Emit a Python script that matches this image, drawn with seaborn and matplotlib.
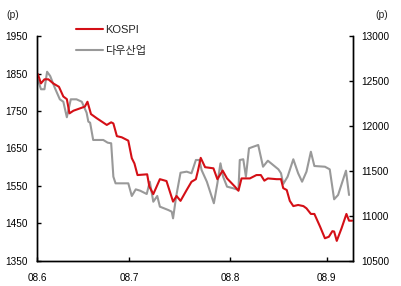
import matplotlib
matplotlib.use("Agg")
import matplotlib.pyplot as plt
import seaborn as sns
import pandas as pd

# trading-day index (0 = start of June 2008) and values
kospi_day = [0.2, 0.9, 1.7, 2.6, 3.7, 5.0, 6.0, 6.8, 7.4, 8.3, 10.2, 10.9, 11.5, 12.3,
             13.6, 15.9, 16.9, 17.4, 18.2, 19.3, 20.8, 21.6, 22.2, 22.9, 25.1, 25.6,
             26.5, 27.1, 28.0, 29.5, 31.0, 31.8, 32.7, 34.1, 35.2, 36.2, 36.7, 37.3,
             38.3, 40.2, 41.1, 42.3, 43.3, 45.1, 45.9, 46.6, 48.5, 50.0, 51.0, 51.8,
             52.6, 54.6, 55.6, 56.1, 56.9, 57.6, 58.4, 59.5, 60.7, 61.4, 62.4, 63.2,
             64.5, 65.6, 66.5, 67.3, 67.7, 68.3, 69.4, 70.5, 71.1, 71.8]
kospi_val = [1849, 1824, 1835, 1835, 1824, 1815, 1789, 1782, 1744, 1751, 1759, 1762,
             1775, 1742, 1731, 1713, 1720, 1717, 1683, 1680, 1671, 1624, 1610, 1579,
             1581, 1548, 1528, 1544, 1568, 1563, 1508, 1523, 1510, 1539, 1561, 1568,
             1592, 1625, 1600, 1597, 1568, 1591, 1570, 1548, 1537, 1570, 1570, 1579,
             1579, 1564, 1570, 1568, 1568, 1544, 1539, 1510, 1496, 1499, 1496, 1490,
             1475, 1475, 1441, 1410, 1414, 1429, 1428, 1403, 1437, 1475, 1457, 1457]

dow_day = [0.2, 0.9, 1.7, 2.3, 3.0, 4.1, 5.2, 6.0, 6.8, 7.7, 9.0, 10.2, 11.3, 11.7,
           12.1, 12.8, 15.1, 16.1, 16.9, 17.4, 17.9, 20.8, 21.6, 22.5, 23.5, 25.0,
           25.7, 26.5, 27.4, 28.0, 29.9, 30.7, 31.0, 31.7, 32.7, 34.1, 35.2, 36.2,
           37.0, 37.5, 38.7, 40.3, 41.1, 41.8, 42.4, 43.3, 44.7, 45.9, 46.2, 47.0,
           47.6, 48.3, 49.3, 50.4, 51.5, 52.6, 53.8, 55.0, 55.6, 56.1, 57.1, 58.4,
           59.5, 60.4, 61.4, 62.4, 63.2, 65.6, 66.7, 67.7, 68.6, 70.4, 71.1]
dow_val = [12521, 12410, 12410, 12605, 12558, 12421, 12298, 12271, 12098, 12298, 12298,
           12271, 12149, 12049, 12038, 11845, 11845, 11815, 11808, 11436, 11362, 11362,
           11221, 11295, 11280, 11243, 11380, 11157, 11221, 11102, 11065, 11046, 10972,
           11213, 11480, 11492, 11474, 11622, 11622, 11510, 11380, 11140, 11362, 11585,
           11436, 11325, 11307, 11288, 11622, 11630, 11436, 11752, 11770, 11789, 11547,
           11614, 11566, 11518, 11474, 11355, 11436, 11630, 11474, 11380, 11492, 11714,
           11555, 11547, 11518, 11184, 11232, 11503, 11232]

month_ticks = [0, 21, 44, 66]
month_labels = ["08.6", "08.7", "08.8", "08.9"]
left_ticks = [1350, 1450, 1550, 1650, 1750, 1850, 1950]
right_ticks = [10500, 11000, 11500, 12000, 12500, 13000]

sns.set_style("white")
plt.rcParams["font.family"] = ["Liberation Sans", "Noto Sans CJK KR", "DejaVu Sans"]

fig = plt.figure(figsize=(4.02, 2.86), dpi=100)
ax = fig.add_axes([37 / 402, 1 - 260.7 / 286, (353 - 37) / 402, (260.7 - 36.3) / 286])
ax2 = ax.twinx()

kdf = pd.DataFrame({"day": kospi_day, "v": kospi_val})
ddf = pd.DataFrame({"day": dow_day, "v": dow_val})

sns.lineplot(data=ddf, x="day", y="v", ax=ax2, color="#999999", lw=1.5, label="다우산업", legend=False)
sns.lineplot(data=kdf, x="day", y="v", ax=ax, color="#d40f16", lw=1.5, label="KOSPI", legend=False)

ax.set_zorder(ax2.get_zorder() + 1)
ax.patch.set_visible(False)

ax.set_xlim(0, 72)
ax.set_ylim(1350, 1950)
ax2.set_ylim(10500, 13000)
ax.set_xticks(month_ticks)
ax.set_xticklabels(month_labels)
ax.set_yticks(left_ticks)
ax.set_yticklabels([str(t) for t in left_ticks])
ax2.set_yticks(right_ticks)
ax2.set_yticklabels([str(t) for t in right_ticks])
for a in (ax, ax2):
    a.set_xlabel("")
    a.set_ylabel("")
    a.grid(False)
    for s in a.spines.values():
        s.set_color("black")
        s.set_linewidth(1.0)
    a.spines["top"].set_visible(False)

ax.tick_params(axis="y", direction="in", length=3, width=1, pad=6.5, labelsize=7.2, colors="black", left=True)
ax.tick_params(axis="x", direction="in", length=3, width=1, pad=9, labelsize=7.2, colors="black", bottom=True)
ax2.tick_params(axis="y", direction="in", length=3, width=1, pad=6, labelsize=7.2, colors="black", right=True)

fig.text(12.5 / 402, 1 - 15.5 / 286, "(p)", fontsize=7.5, ha="center", va="center")
fig.text(382 / 402, 1 - 15.5 / 286, "(p)", fontsize=7.5, ha="center", va="center")

h1, l1 = ax.get_legend_handles_labels()
h2, l2 = ax2.get_legend_handles_labels()
fig.legend(h1 + h2, l1 + l2, loc="upper left", bbox_to_anchor=(76 / 402, 1 - 25 / 286),
           frameon=False, fontsize=8, handlelength=2.4, handletextpad=0.2,
           borderpad=0, borderaxespad=0, labelspacing=0.95)

fig.savefig("out.png", dpi=100)
